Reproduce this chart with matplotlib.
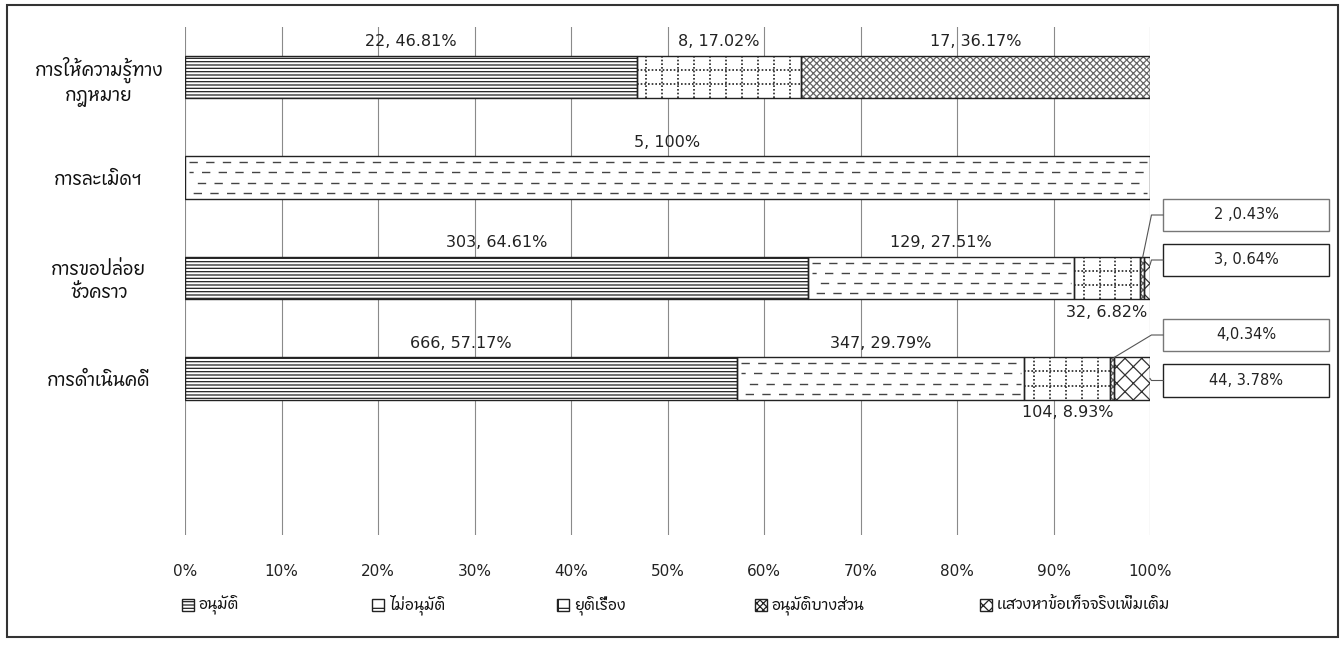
import matplotlib
matplotlib.use("Agg")
import matplotlib.pyplot as plt
from matplotlib import font_manager
from matplotlib.ft2font import FT2Font
from matplotlib.patches import Rectangle
import numpy as np

# ---------------- data ----------------
categories = ['การให้ความรู้ทาง\nกฎหมาย', 'การละเมิดฯ', 'การขอปล่อย\nชั่วคราว', 'การดำเนินคดี']
series_names = ['อนุมัติ', 'ไม่อนุมัติ', 'ยุติเรื่อง', 'อนุมัติบางส่วน', 'แสวงหาข้อเท็จจริงเพิ่มเติม']

approved_pct = [46.81, 0, 64.61, 57.17]
rejected_pct = [0, 100, 27.51, 29.79]
ended_pct = [17.02, 0, 6.82, 8.93]
partial_pct = [36.17, 0, 0.43, 0.34]
fact_pct = [0, 0, 0.64, 3.78]

approved_lbl = ['22, 46.81%', '', '303, 64.61%', '666, 57.17%']
rejected_lbl = ['', '5, 100%', '129, 27.51%', '347, 29.79%']
ended_lbl = ['8, 17.02%', '', '32, 6.82%', '104, 8.93%']
partial_lbl = ['17, 36.17%', '', '2 ,0.43%', '4,0.34%']
fact_lbl = ['', '', '3, 0.64%', '44, 3.78%']

tick_vals = [0, 10, 20, 30, 40, 50, 60, 70, 80, 90, 100]
tick_labels = ['0%', '10%', '20%', '30%', '40%', '50%', '60%', '70%', '80%', '90%', '100%']

# ---------------- fonts ----------------
def find_thai_font():
    best = None
    for f in font_manager.fontManager.ttflist:
        try:
            cm = FT2Font(f.fname).get_charmap()
        except Exception:
            continue
        if 0x0E01 in cm and 0x0E31 in cm and 0x0E49 in cm:
            if best is None or 'Sans' in f.name:
                best = f.name
    return best

thai = find_thai_font()
num_family = ['DejaVu Sans']
thai_family = ([thai] if thai else []) + ['DejaVu Sans']
plt.rcParams['font.family'] = thai_family
plt.rcParams['hatch.linewidth'] = 0.9

# ---------------- figure ----------------
W, H = 1344, 649
fig = plt.figure(figsize=(W / 100, H / 100), dpi=100)
ax_left, ax_right, ax_top, ax_bot = 185, 1150, 27, 535
ax = fig.add_axes([ax_left / W, 1 - ax_bot / H, (ax_right - ax_left) / W, (ax_bot - ax_top) / H])

y = np.arange(len(categories))
bar_h = 0.42

pcts = [approved_pct, rejected_pct, ended_pct, partial_pct, fact_pct]
lbls = [approved_lbl, rejected_lbl, ended_lbl, partial_lbl, fact_lbl]
hatches = ['-----', '', '', 'xxxxx', 'xx']
hatch_cols = ['#222222', '#555555', '#333333', '#666666', '#333333']

left = np.zeros(len(categories))
seg_left = []
for s, vals in enumerate(pcts):
    v = np.array(vals, dtype=float)
    ax.barh(y, v, left=left, height=bar_h, color='white', hatch=hatches[s] or None,
            edgecolor=hatch_cols[s], linewidth=0, zorder=2)
    ax.barh(y, v, left=left, height=bar_h, fill=False, edgecolor='#222222',
            linewidth=np.where(v > 0, 1.0, 0), zorder=3.5)
    seg_left.append(left.copy())
    left = left + v

# dashed-line fill for "ไม่อนุมัติ"
for c in range(len(categories)):
    w = rejected_pct[c]
    if w <= 0:
        continue
    x0 = seg_left[1][c]
    for k, off in enumerate([-0.15, -0.05, 0.05, 0.15]):
        ax.hlines(y[c] + off, x0 + 0.4, x0 + w - 0.3, colors='#444444', linewidth=1.0,
                  linestyles=[(k * 3, (6, 6))], zorder=2.5)

# dotted grid fill for "ยุติเรื่อง"
for c in range(len(categories)):
    w = ended_pct[c]
    if w <= 0:
        continue
    x0 = seg_left[2][c]
    for off in [-0.07, 0.07]:
        ax.hlines(y[c] + off, x0, x0 + w, colors='#222222', linewidth=1.2,
                  linestyles=[(0, (1, 1.2))], zorder=2.5)
    xs = np.arange(x0 + 1.0, x0 + w - 0.3, 1.65)
    ax.vlines(xs, y[c] - bar_h / 2, y[c] + bar_h / 2, colors='#222222', linewidth=1.2,
              linestyles=[(0, (1, 1.2))], zorder=2.5)

ax.set_xlim(0, 100)
ax.set_ylim(3 + 156.5 / 100.5, -50 / 100.5)
ax.set_xticks(tick_vals)
ax.set_xticklabels(tick_labels, family=num_family, fontsize=11, color='#222222')
ax.tick_params(axis='x', length=0, pad=21)
ax.set_yticks(y)
ax.set_yticklabels(categories, fontsize=13, ha='center', multialignment='center',
                   color='#111111')
ax.tick_params(axis='y', length=0, pad=62)
for sp in ax.spines.values():
    sp.set_visible(False)
ax.grid(axis='x', color='#8a8a8a', linewidth=0.8, zorder=0)
ax.set_axisbelow(True)

# data labels
below = {(2, 2), (2, 3)}
boxed = {(3, 2): (-63 / 100.5, 99.25, -bar_h / 2, '#777777'),
         (4, 2): (-18 / 100.5, 100.0, -0.13, '#222222'),
         (3, 3): (-43.5 / 100.5, 96.3, -bar_h / 2, '#777777'),
         (4, 3): (2 / 100.5, 100.0, 0.0, '#222222')}
box_x0, box_w, box_h = 101.35, 17.2, 0.32
for s in range(len(pcts)):
    for c in range(len(categories)):
        t = lbls[s][c]
        if not t:
            continue
        cx = seg_left[s][c] + pcts[s][c] / 2
        if (s, c) in boxed:
            dy, ax_x, ay, bcol = boxed[(s, c)]
            yb = y[c] + dy
            ax.add_patch(Rectangle((box_x0, yb - box_h / 2), box_w, box_h, facecolor='white',
                                   edgecolor=bcol, linewidth=1.0, clip_on=False, zorder=4))
            ax.text(box_x0 + box_w / 2, yb, t, ha='center', va='center', fontsize=10.5,
                    family=num_family, color='#222222', clip_on=False, zorder=5)
            ax.plot([box_x0, 100.15, ax_x], [yb, yb, y[c] + ay], color='#555555',
                    linewidth=0.8, clip_on=False, zorder=4)
        elif (s, c) in below:
            ax.text(cx, y[c] + 0.34, t, ha='center', va='center', fontsize=11.5,
                    family=num_family, color='#222222', zorder=5)
        else:
            ax.text(cx, y[c] - 0.35, t, ha='center', va='center', fontsize=11.5,
                    family=num_family, color='#222222', zorder=5)

# legend (manual, one entry per series)
legend_x = [182, 372, 557, 755, 980]
legend_hatch = ['-----', '-', '+', 'xxxxx', 'xxx']
ly = 605
sq = 12
for i, name in enumerate(series_names):
    x0 = legend_x[i]
    fig.add_artist(Rectangle((x0 / W, (H - ly - sq / 2) / H), sq / W, sq / H,
                             transform=fig.transFigure, facecolor='white',
                             edgecolor='#222222', hatch=legend_hatch[i], linewidth=1.0))
    fig.text((x0 + sq + 5) / W, 1 - ly / H, name, ha='left', va='center', fontsize=11,
             color='#111111')

# outer frame
fig.add_artist(Rectangle((7 / W, 1 - 637 / H), (1338 - 7) / W, (637 - 5) / H,
                         transform=fig.transFigure, fill=False, edgecolor='#333333',
                         linewidth=1.5))

fig.savefig('out.png', dpi=100)
